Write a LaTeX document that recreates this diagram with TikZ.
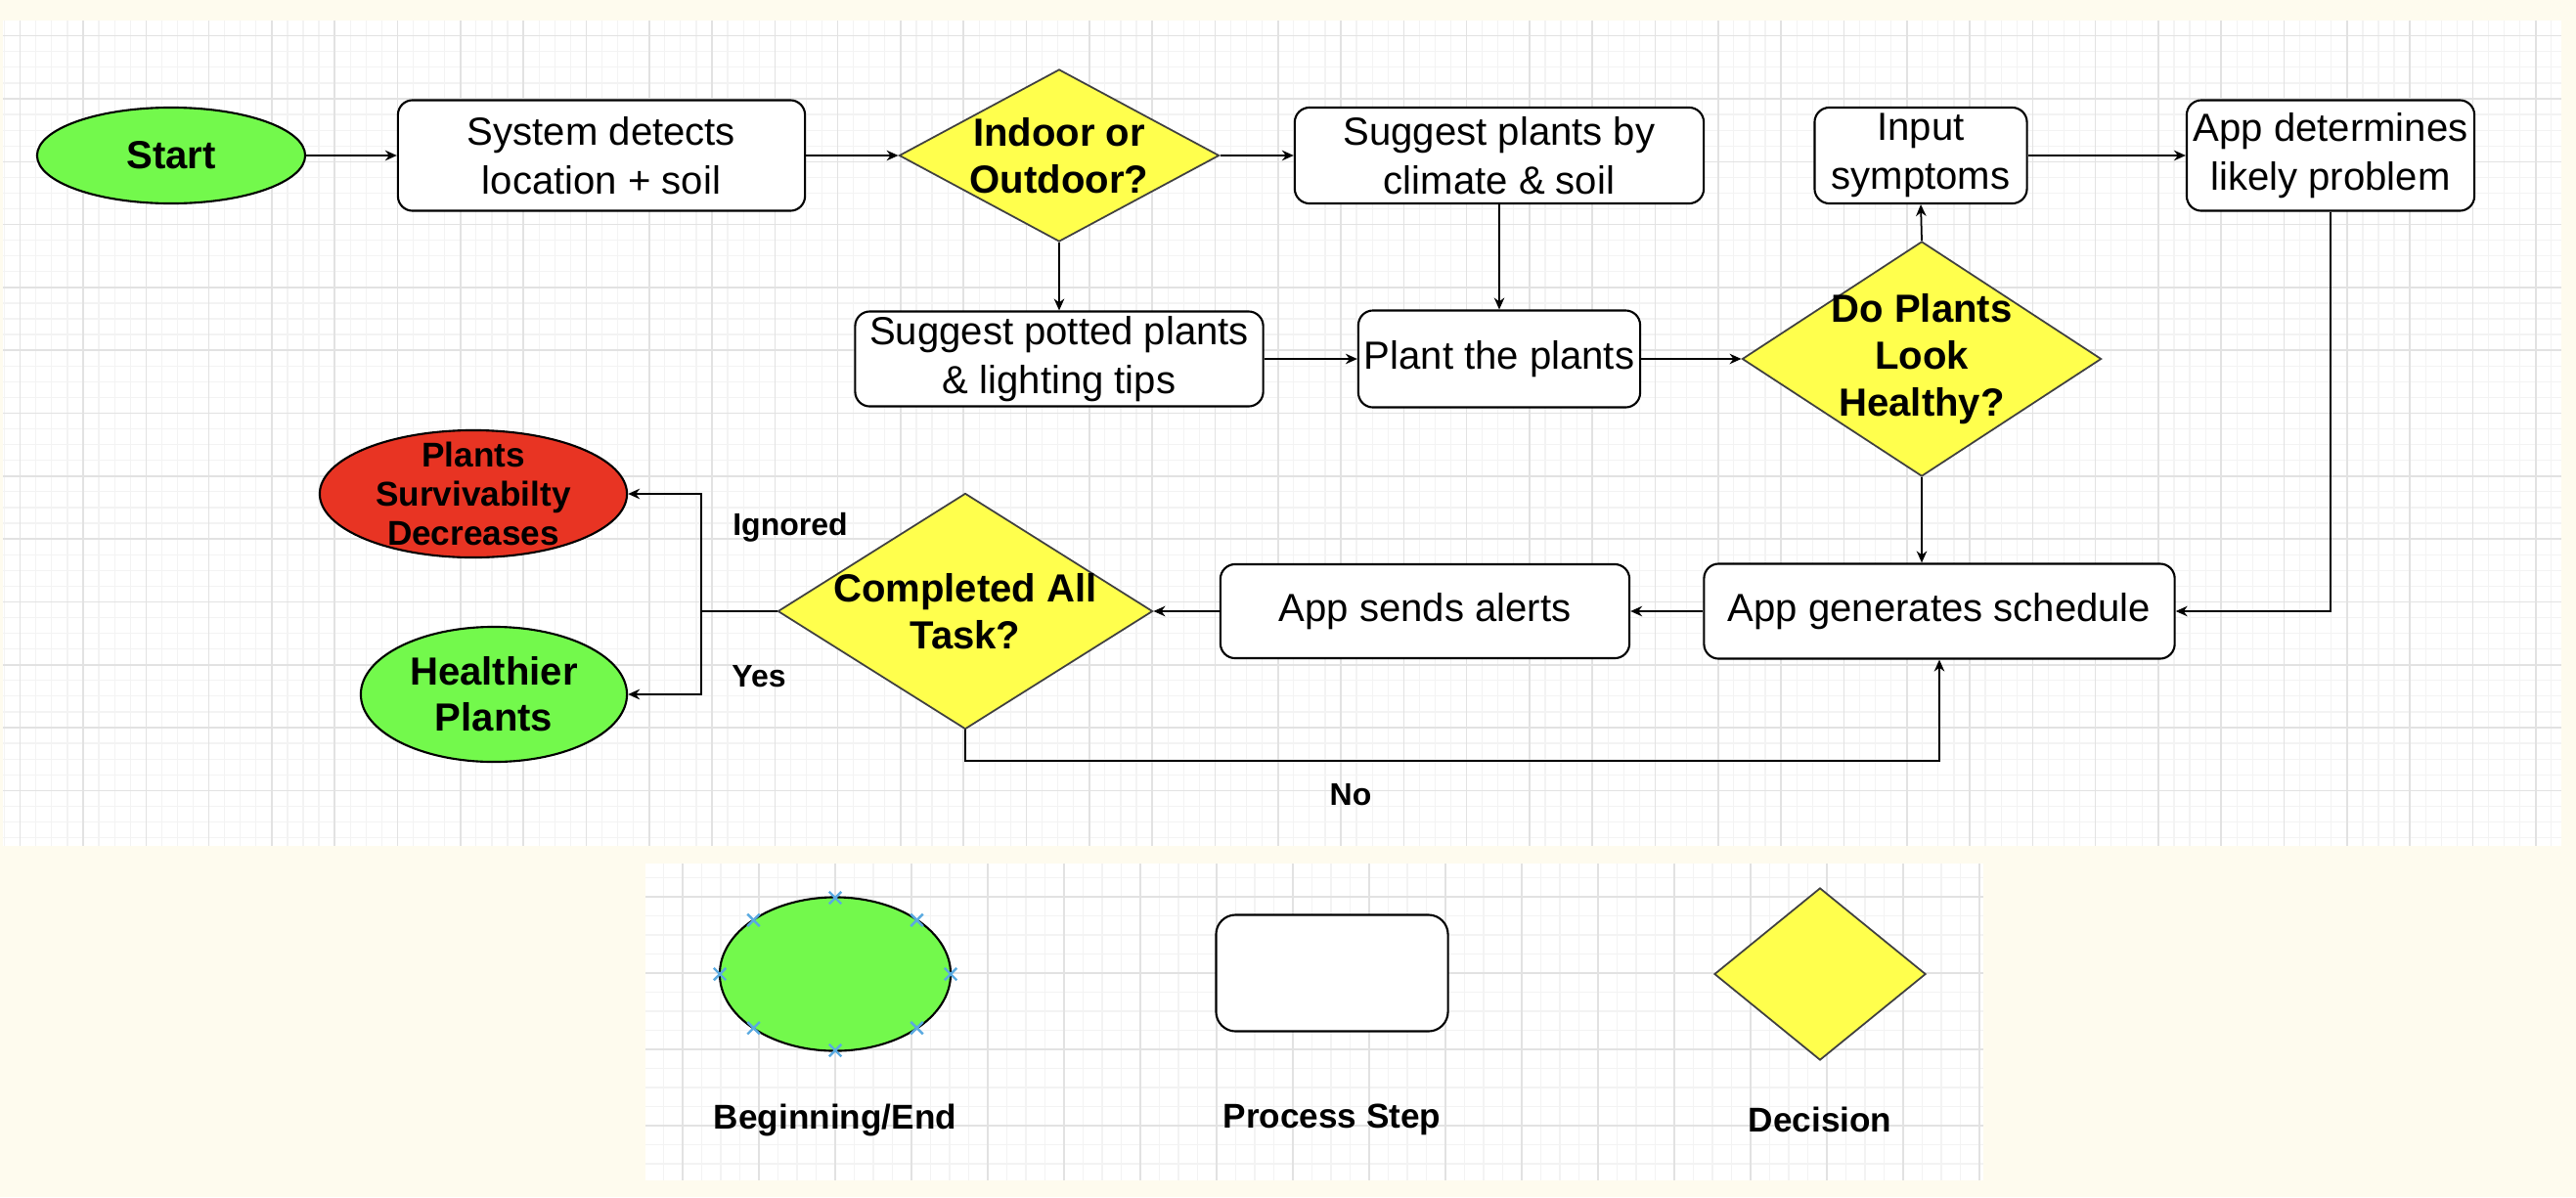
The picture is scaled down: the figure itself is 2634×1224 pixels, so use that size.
\documentclass[tikz,border=0pt]{standalone}
\usepackage{fontspec}
\setmainfont{Liberation Sans}
\usetikzlibrary{shapes.geometric,shapes.misc,arrows.meta}

\definecolor{cream}{RGB}{254,251,238}
\definecolor{gridminor}{RGB}{243,243,243}
\definecolor{gridmajor}{RGB}{226,226,226}
\definecolor{startgreen}{RGB}{115,249,76}
\definecolor{endred}{RGB}{232,52,35}
\definecolor{decyellow}{RGB}{255,255,77}
\definecolor{handleblue}{RGB}{90,170,225}

\begin{document}
\begin{tikzpicture}[x=0.01cm, y=-0.01cm,
  stepbox/.style={draw, fill=white, rounded corners=0.15cm, line width=0.6pt, align=center, inner sep=0pt, font=\fontsize{11.4}{14.2}\selectfont},
  decision/.style={diamond, draw=black!75, fill=decyellow, line width=0.5pt, align=center, inner sep=-30pt, font=\bfseries\fontsize{11.4}{13.7}\selectfont},
  terminal/.style={ellipse, draw, line width=0.6pt, align=center, inner sep=-30pt, font=\bfseries\fontsize{11.4}{13.4}\selectfont},
  flow/.style={-{Stealth[length=3.4pt,width=3pt]}, line width=0.5pt},
  edgelabel/.style={font=\bfseries\fontsize{9.1}{11}\selectfont},
  legendlabel/.style={font=\bfseries\fontsize{10}{12}\selectfont},
  minorline/.style={draw=gridminor, line width=0.35pt},
  majorline/.style={draw=gridmajor, line width=0.45pt},
  handle/.style={cross out, draw=handleblue, line width=0.7pt, minimum size=0.1cm, inner sep=0pt}
]

% Background and bounding box
\useasboundingbox (0,0) rectangle (2634,1224);
\fill[cream] (0,0) rectangle (2634,1224);

% Draw the grid of the main panel
\fill[white] (3,21) rectangle (2619,865);
\begin{scope}
\clip (3,21) rectangle (2619,865);
\foreach \x in {4.6,20.675,...,2620} \draw[minorline] (\x,21) -- (\x,865);
\foreach \y in {20.6,36.675,...,866} \draw[minorline] (3,\y) -- (2619,\y);
\foreach \x in {20.7,85,...,2620} \draw[majorline] (\x,21) -- (\x,865);
\foreach \y in {36.7,101,...,866} \draw[majorline] (3,\y) -- (2619,\y);
\end{scope}

% Draw the grid of the legend panel
\fill[white] (660,883) rectangle (2028,1207);
\begin{scope}
\clip (660,883) rectangle (2028,1207);
\foreach \x in {659,678.5,...,2030} \draw[minorline] (\x,883) -- (\x,1207);
\foreach \y in {878,897.5,...,1210} \draw[minorline] (660,\y) -- (2028,\y);
\foreach \x in {698,776,...,2030} \draw[majorline] (\x,883) -- (\x,1207);
\foreach \y in {917,995,...,1210} \draw[majorline] (660,\y) -- (2028,\y);
\end{scope}

% Top row
\node[terminal, fill=startgreen, minimum width=2.74cm, minimum height=0.98cm] (start) at (175,159) {Start};
\node[stepbox, minimum width=4.16cm, minimum height=1.13cm] (detect) at (615,159) {System detects\\location + soil};
\node[decision, minimum width=3.27cm, minimum height=1.76cm] (indoor) at (1083,159) {Indoor or\\Outdoor?};
\node[stepbox, minimum width=4.18cm, minimum height=0.98cm] (climate) at (1533,159) {Suggest plants by\\climate \& soil};
\node[stepbox, minimum width=2.17cm, minimum height=0.98cm] (symptoms) at (1964,159) {Input\\symptoms};
\node[stepbox, minimum width=2.94cm, minimum height=1.13cm] (problem) at (2383,159) {App determines\\likely problem};

% Middle row
\node[stepbox, minimum width=4.17cm, minimum height=0.97cm] (potted) at (1083,367) {Suggest potted plants\\\& lighting tips};
\node[stepbox, minimum width=2.88cm, minimum height=0.99cm] (plant) at (1533,367) {Plant the plants};
\node[decision, minimum width=3.67cm, minimum height=2.40cm] (healthy) at (1965,367) {Do Plants\\Look\\Healthy?};

% Bottom row
\node[stepbox, minimum width=4.81cm, minimum height=0.97cm] (schedule) at (1983,625) {App generates schedule};
\node[stepbox, minimum width=4.18cm, minimum height=0.96cm] (alerts) at (1457,625) {App sends alerts};
\node[decision, minimum width=3.83cm, minimum height=2.41cm] (done) at (987,625) {Completed All\\Task?};
\node[terminal, fill=endred, minimum width=3.14cm, minimum height=1.30cm, font=\bfseries\fontsize{10}{11.4}\selectfont] (worse) at (484,505) {Plants\\Survivabilty\\Decreases};
\node[terminal, fill=startgreen, minimum width=2.72cm, minimum height=1.38cm] (better) at (505,710) {Healthier\\Plants};

% Turning points
\coordinate (split) at (717,625);
\coordinate (retry) at (987,778);

% Draw the connectors
\draw[flow] (start) -- (detect);
\draw[flow] (detect) -- (indoor);
\draw[flow] (indoor) -- (climate);
\draw[flow] (indoor) -- (potted);
\draw[flow] (climate) -- (plant);
\draw[flow] (potted) -- (plant);
\draw[flow] (plant) -- (healthy);
\draw[flow] (healthy.north) -- (symptoms.south);
\draw[flow] (symptoms) -- (problem);
\draw[flow] (problem.south) |- (schedule.east);
\draw[flow] (healthy.south) -- (healthy.south |- schedule.north);
\draw[flow] (schedule) -- (alerts);
\draw[flow] (alerts) -- (done);
\draw[line width=0.5pt] (done.west) -- (split);
\draw[flow] (split) |- (worse.east);
\draw[flow] (split) |- (better.east);
\draw[flow] (done.south) -- (retry) -| (schedule.south);

% Connector labels
\node[edgelabel] (ignored) at (808,539) {Ignored};
\node[edgelabel] (yes) at (776,692) {Yes};
\node[edgelabel] (no) at (1381,813) {No};

% Legend
\node[terminal, fill=startgreen, minimum width=2.36cm, minimum height=1.57cm] (legstart) at (854,996) {};
\foreach \a in {0,45,...,315}
  \node[handle] at ({854+118*cos(\a)},{996+78*sin(\a)}) {};
\node[stepbox, rounded corners=0.2cm, minimum width=2.37cm, minimum height=1.19cm] (legstep) at (1362,995) {};
\node[decision, minimum width=2.16cm, minimum height=1.76cm] (legdec) at (1861,996) {};
\node[legendlabel] (leglabstart) at (854,1145) {Beginning/End};
\node[legendlabel] (leglabstep) at (1362,1145) {Process Step};
\node[legendlabel] (leglabdec) at (1861,1145) {Decision};

\end{tikzpicture}
\end{document}
